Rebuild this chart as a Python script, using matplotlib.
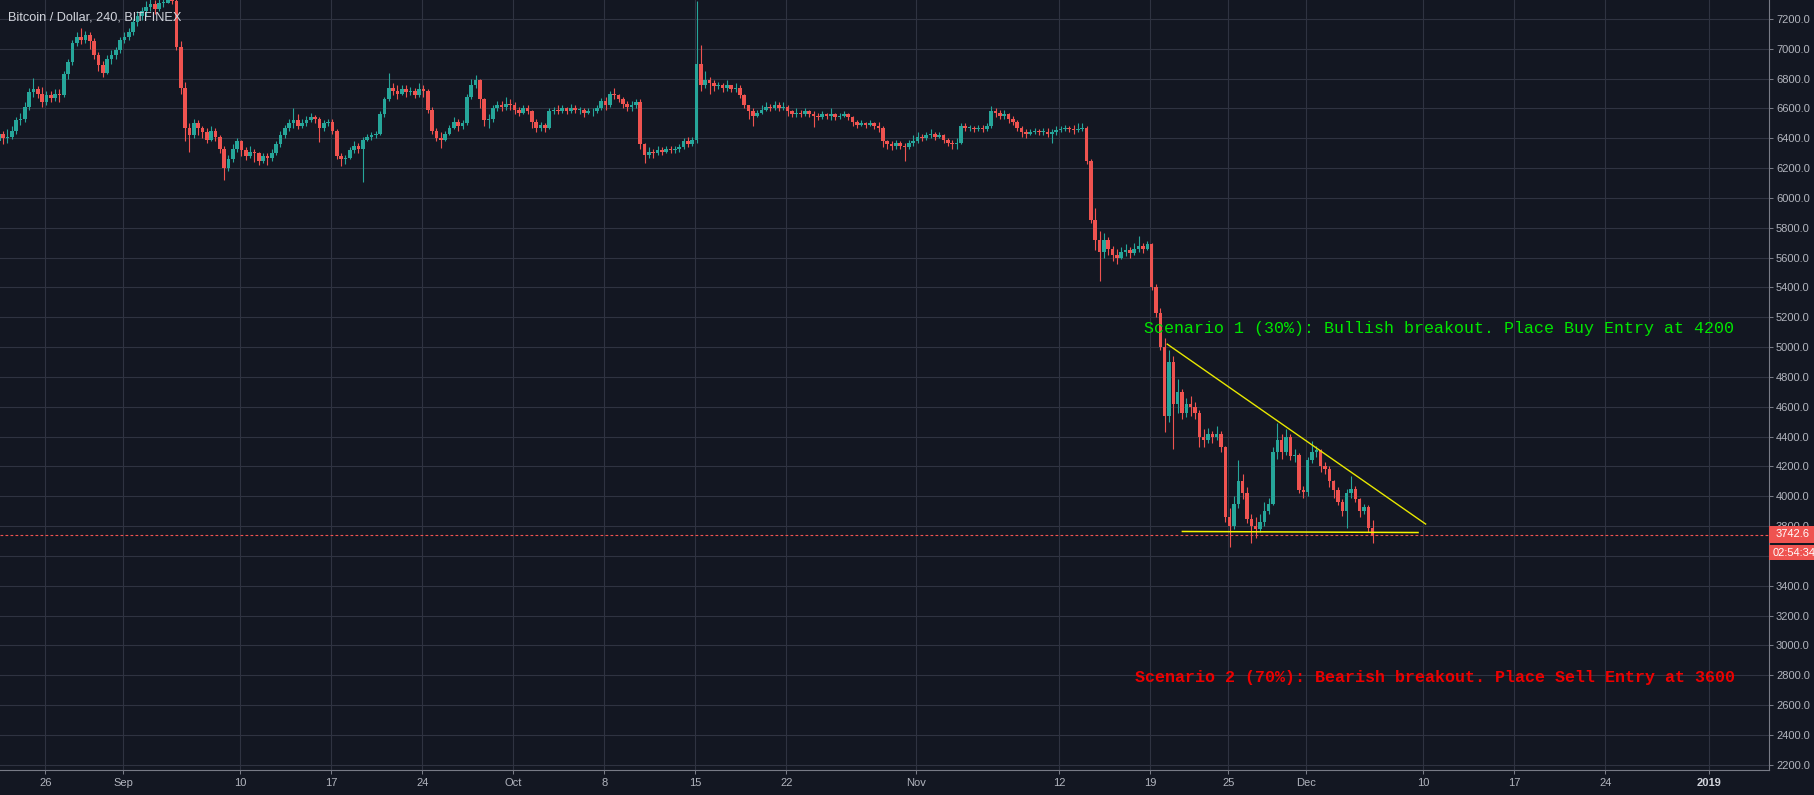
import numpy as np
import pandas as pd
import matplotlib
matplotlib.use("Agg")
import matplotlib.pyplot as plt
import matplotlib.dates as mdates
from matplotlib.patches import Rectangle

plt.rcParams['font.family'] = ['Liberation Sans', 'DejaVu Sans']

# ============================================
# DATA: BTC/USD Bitfinex, 8h candles
# (open of each candle = previous close)
# ============================================
first_open = 6420

close_aug = [6380, 6430, 6400,  6410, 6450, 6520,  6530, 6610, 6710,  6730, 6700, 6640,
             6690, 6670, 6700,  6690, 6830, 6910,  7040, 7080, 7060,  7090, 7050, 6960,
             6890, 6840, 6930,  6960, 6990, 7060]
high_aug = [6460, 6470, 6450,  6460, 6480, 6540,  6570, 6640, 6740,  6805, 6750, 6745,
            6720, 6720, 6730,  6730, 6850, 6930,  7060, 7110, 7140,  7120, 7110, 7070,
            6980, 6920, 6960,  6990, 7010, 7080]
low_aug = [6330, 6255, 6360,  6370, 6395, 6430,  6490, 6510, 6590,  6680, 6670, 6610,
           6620, 6640, 6650,  6640, 6680, 6800,  6890, 7020, 7030,  7040, 7000, 6930,
           6850, 6810, 6830,  6900, 6930, 6970]

close_sep = [7080, 7110, 7180,  7220, 7250, 7280,  7300, 7270, 7310,  7310, 7340, 7320,
             7010, 6740, 6470,  6420, 6500, 6470,  6440, 6390, 6450,  6410, 6330, 6200,
             6260, 6330, 6380,  6320, 6280, 6310,  6300, 6250, 6280,  6270, 6300, 6360,
             6420, 6470, 6500,  6520, 6480, 6500,  6520, 6540, 6530,  6470, 6500, 6510,
             6450, 6280, 6260,  6270, 6320, 6350,  6330, 6390, 6410,  6420, 6430, 6560,
             6660, 6740, 6720,  6700, 6730, 6710,  6720, 6690, 6730,  6720, 6590, 6450,
             6400, 6390, 6430,  6470, 6510, 6480,  6500, 6680, 6760,  6790, 6660, 6520,
             6530, 6600, 6620,  6610, 6630, 6620]
high_sep = [7110, 7140, 7200,  7250, 7280, 7320,  7350, 7330, 7340,  7370, 7400, 7390,
            7360, 7050, 6780,  6500, 6530, 6520,  6480, 6470, 6480,  6470, 6420, 6350,
            6290, 6360, 6400,  6390, 6340, 6345,  6330, 6310, 6300,  6300, 6330, 6380,
            6450, 6490, 6530,  6603, 6560, 6530,  6550, 6570, 6555,  6540, 6520, 6530,
            6530, 6460, 6300,  6290, 6340, 6380,  6370, 6410, 6430,  6440, 6450, 6580,
            6680, 6840, 6770,  6760, 6760, 6760,  6745, 6740, 6770,  6760, 6730, 6610,
            6470, 6440, 6450,  6490, 6540, 6530,  6520, 6700, 6800,  6827, 6800, 6670,
            6560, 6620, 6650,  6650, 6680, 6660]
low_sep = [7040, 7060, 7090,  7150, 7190, 7220,  7250, 7230, 7250,  7280, 7310, 7300,
           6990, 6700, 6380,  6308, 6400, 6420,  6400, 6370, 6380,  6380, 6300, 6121,
           6180, 6240, 6310,  6280, 6255, 6270,  6240, 6220, 6235,  6220, 6250, 6290,
           6340, 6400, 6450,  6470, 6460, 6470,  6480, 6510, 6500,  6378, 6450, 6480,
           6430, 6260, 6211,  6230, 6260, 6300,  6300, 6105, 6380,  6390, 6400, 6420,
           6540, 6650, 6690,  6660, 6690, 6680,  6690, 6670, 6680,  6680, 6570, 6430,
           6380, 6333, 6380,  6420, 6460, 6450,  6460, 6490, 6660,  6740, 6600, 6480,
           6470, 6510, 6580,  6580, 6590, 6590]

close_oct = [6590, 6570, 6600,  6580, 6510, 6470,  6490, 6470, 6580,  6590, 6580, 6600,
             6580, 6600, 6590,  6590, 6570, 6580,  6580, 6600, 6650,  6620, 6700, 6690,
             6660, 6630, 6610,  6620, 6640, 6360,  6290, 6310, 6300,  6320, 6310, 6330,
             6320, 6330, 6340,  6380, 6360, 6390,  6900, 6760, 6790,  6770, 6750, 6760,
             6740, 6760, 6730,  6740, 6690, 6620,  6580, 6550, 6570,  6590, 6610, 6600,
             6620, 6600, 6610,  6580, 6560, 6570,  6560, 6580, 6560,  6550, 6540, 6560,
             6550, 6560, 6545,  6550, 6560, 6540,  6510, 6490, 6500,  6490, 6500, 6485,
             6470, 6380, 6360,  6350, 6370, 6350,  6340, 6370, 6380]
high_oct = [6640, 6610, 6620,  6620, 6590, 6530,  6510, 6500, 6600,  6610, 6620, 6620,
            6610, 6630, 6620,  6610, 6600, 6600,  6600, 6620, 6670,  6680, 6720, 6740,
            6700, 6680, 6650,  6650, 6660, 6660,  6370, 6340, 6330,  6345, 6340, 6350,
            6350, 6350, 6360,  6400, 6410, 6410,  7322, 7022, 6850,  6811, 6790, 6780,
            6770, 6790, 6760,  6770, 6760, 6700,  6620, 6600, 6590,  6620, 6644, 6630,
            6650, 6640, 6640,  6620, 6590, 6600,  6590, 6600, 6590,  6580, 6570, 6580,
            6570, 6600, 6570,  6570, 6580, 6570,  6550, 6520, 6520,  6510, 6520, 6510,
            6510, 6480, 6390,  6380, 6390, 6380,  6370, 6390, 6420]
low_oct = [6560, 6550, 6560,  6560, 6470, 6440,  6450, 6440, 6460,  6560, 6560, 6570,
           6560, 6570, 6570,  6560, 6540, 6560,  6550, 6570, 6590,  6590, 6610, 6660,
           6640, 6600, 6580,  6580, 6600, 6330,  6233, 6270, 6270,  6290, 6290, 6300,
           6300, 6300, 6310,  6330, 6340, 6350,  6370, 6720, 6740,  6700, 6720, 6730,
           6710, 6720, 6710,  6710, 6670, 6600,  6530, 6480, 6540,  6560, 6580, 6580,
           6590, 6580, 6590,  6550, 6540, 6545,  6540, 6550, 6540,  6474, 6520, 6530,
           6530, 6520, 6520,  6530, 6540, 6520,  6480, 6470, 6480,  6470, 6480, 6465,
           6440, 6340, 6330,  6320, 6330, 6330,  6251, 6330, 6350]

close_nov = [6410, 6400, 6420,  6430, 6410, 6420,  6390, 6370, 6360,  6370, 6480, 6470,
             6470, 6460, 6470,  6460, 6480, 6580,  6570, 6550, 6560,  6530, 6510, 6470,
             6440, 6430, 6440,  6450, 6440, 6445,  6430, 6440, 6455,  6460, 6470, 6460,
             6455, 6460, 6470,  6250, 5850, 5720,  5640, 5720, 5660,  5620, 5600, 5640,
             5650, 5630, 5660,  5680, 5660, 5690,  5400, 5230, 5000,  4540, 4900, 4620,
             4700, 4560, 4620,  4600, 4560, 4400,  4380, 4420, 4400,  4420, 4330, 3860,
             3800, 3950, 4100,  4020, 3850, 3800,  3780, 3830, 3900,  3950, 4300, 4380,
             4300, 4400, 4270,  4280, 4040, 4030]
high_nov = [6440, 6430, 6440,  6460, 6440, 6440,  6430, 6400, 6390,  6400, 6500, 6500,
            6490, 6480, 6490,  6490, 6500, 6615,  6600, 6590, 6590,  6570, 6550, 6520,
            6480, 6460, 6460,  6470, 6460, 6470,  6470, 6460, 6480,  6480, 6490, 6480,
            6490, 6500, 6500,  6480, 6260, 5930,  5780, 5766, 5740,  5680, 5660, 5670,
            5690, 5670, 5700,  5748, 5700, 5710,  5700, 5420, 5260,  5060, 4980, 4940,
            4784, 4720, 4660,  4672, 4630, 4580,  4450, 4460, 4440,  4470, 4440, 4340,
            3920, 4000, 4245,  4150, 4060, 3880,  3860, 3880, 3960,  3990, 4330, 4492,
            4420, 4450, 4420,  4320, 4290, 4070]
low_nov = [6370, 6380, 6390,  6400, 6390, 6400,  6370, 6345, 6329,  6330, 6360, 6450,
           6450, 6440, 6450,  6440, 6450, 6470,  6540, 6530, 6530,  6500, 6490, 6450,
           6410, 6400, 6420,  6430, 6420, 6425,  6410, 6367, 6420,  6440, 6450, 6440,
           6430, 6440, 6450,  6230, 5830, 5650,  5443, 5600, 5620,  5577, 5560, 5590,
           5610, 5600, 5620,  5640, 5630, 5650,  5380, 5200, 4980,  4430, 4500, 4320,
           4560, 4520, 4530,  4540, 4520, 4330,  4330, 4360, 4360,  4380, 4300, 3830,
           3660, 3780, 3920,  3980, 3820, 3688,  3720, 3760, 3800,  3880, 3940, 4250,
           4250, 4280, 4240,  4230, 4020, 3990]

close_dec = [4240, 4300, 4310,  4200, 4180, 4100,  4040, 3960, 3900,  4020, 4050, 3980,
             3900, 3930, 3790,  3742.6]
high_dec = [4260, 4370, 4340,  4320, 4230, 4200,  4110, 4060, 3980,  4050, 4133, 4070,
            3990, 3950, 3940,  3840]
low_dec = [4000, 4220, 4260,  4160, 4150, 4060,  3990, 3940, 3870,  3790, 3990, 3960,
           3860, 3880, 3760,  3688]

# x-axis date ticks
tick_dates = ['2018-08-26', '2018-09-01', '2018-09-10', '2018-09-17', '2018-09-24',
              '2018-10-01', '2018-10-08', '2018-10-15', '2018-10-22', '2018-11-01',
              '2018-11-12', '2018-11-19', '2018-11-25', '2018-12-01', '2018-12-10',
              '2018-12-17', '2018-12-24', '2019-01-01']
tick_labels = ['26', 'Sep', '10', '17', '24', 'Oct', '8', '15', '22', 'Nov',
               '12', '19', '25', 'Dec', '10', '17', '24', '2019']
price_ticks = list(range(2200, 7201, 200))
hidden_ticks = [3600]  # covered by the countdown box on the price scale

# triangle drawn on the chart
upper_line_dates = ['2018-11-20 07:00', '2018-12-10 04:00']
upper_line_prices = [5020, 3814]
lower_line_dates = ['2018-11-21 11:00', '2018-12-09 14:00']
lower_line_prices = [3764, 3757]

title = 'Bitcoin / Dollar, 240, BITFINEX'
note_buy = 'Scenario 1 (30%): Bullish breakout. Place Buy Entry at 4200'
note_sell = 'Scenario 2 (70%): Bearish breakout. Place Sell Entry at 3600'
timer = '02:54:34'

# ============================================
# BUILD CANDLES
# ============================================
closes = np.array(close_aug + close_sep + close_oct + close_nov + close_dec, dtype=float)
highs = np.array(high_aug + high_sep + high_oct + high_nov + high_dec, dtype=float)
lows = np.array(low_aug + low_sep + low_oct + low_nov + low_dec, dtype=float)
opens = np.concatenate([[first_open], closes[:-1]])
highs = np.maximum(highs, np.maximum(opens, closes))
lows = np.minimum(lows, np.minimum(opens, closes))

times = pd.date_range('2018-08-22 00:00', periods=len(closes), freq='8h')
x = mdates.date2num(times) + 2 / 24

BG = '#131722'
GRID = '#2f3341'
AXIS = '#787b86'
TXT = '#b2b5be'
UP = '#26a69a'
DOWN = '#ef5350'

up = closes >= opens
cols = np.where(up, UP, DOWN)

# ============================================
# FIGURE
# ============================================
W, H = 1814, 795
fig = plt.figure(figsize=(W / 100, H / 100), dpi=100, facecolor=BG)
ax = fig.add_axes([0, 1 - 770 / H, 1769 / W, 770 / H], facecolor=BG)

ax.vlines(x, lows, highs, colors=cols, lw=0.8, zorder=2)
ax.bar(x, np.maximum(np.abs(closes - opens), 6), bottom=np.minimum(opens, closes),
       width=0.26, color=cols, linewidth=0, zorder=3)

ax.set_xlim(mdates.date2num(pd.Timestamp('2018-08-22 12:11')),
            mdates.date2num(pd.Timestamp('2019-01-05 13:55')))
ax.set_ylim(2165, 7327)

ax.set_xticks(mdates.date2num(pd.to_datetime(tick_dates)))
ax.set_xticklabels(tick_labels)
ax.set_yticks(price_ticks)
ax.set_yticklabels(['' if p in hidden_ticks else f'{p:.1f}' for p in price_ticks])
ax.yaxis.tick_right()

ax.grid(True, color=GRID, lw=0.8)
ax.set_axisbelow(True)
for s in ['top', 'left']:
    ax.spines[s].set_visible(False)
for s in ['right', 'bottom']:
    ax.spines[s].set_color(AXIS)
    ax.spines[s].set_linewidth(0.8)

ax.tick_params(axis='x', length=3, width=0.75, color=AXIS, labelcolor=TXT,
               labelsize=8, pad=3)
ax.tick_params(axis='y', length=3, width=0.75, color=AXIS, labelcolor=TXT,
               labelsize=8, pad=2)
lbl = ax.get_xticklabels()[-1]
lbl.set_fontweight('bold')
lbl.set_color('#d1d4dc')

# triangle
ax.plot(pd.to_datetime(upper_line_dates), upper_line_prices, color='#e8e800', lw=1.0, zorder=5)
ax.plot(pd.to_datetime(lower_line_dates), lower_line_prices, color='#f5f500', lw=1.1, zorder=5)

# scenario notes
ax.text(mdates.date2num(pd.Timestamp('2018-11-18 13:00')), 5092, note_buy,
        family=['Liberation Mono', 'DejaVu Sans Mono'], fontsize=12,
        color='#00e600', va='baseline', ha='left', zorder=6)
ax.text(mdates.date2num(pd.Timestamp('2018-11-17 20:00')), 2757, note_sell,
        family=['Liberation Mono', 'DejaVu Sans Mono'], fontsize=12, fontweight='bold',
        color='#ee0000', va='baseline', ha='left', zorder=6)

# current price line and labels
last = closes[-1]
ax.axhline(last, color=DOWN, lw=0.8, ls=(0, (2.5, 2)), zorder=4)

fig.canvas.draw()
Y = ax.transData.transform((x[0], last))[1]
x0 = 1769 / W
fig.add_artist(Rectangle((x0, (Y - 8) / H), (W - 1769) / W, 17 / H,
                         transform=fig.transFigure, facecolor=DOWN, edgecolor='none'))
fig.add_artist(Rectangle((x0, (Y - 25.7) / H), (W - 1769) / W, 15 / H,
                         transform=fig.transFigure, facecolor=DOWN, edgecolor='none'))
fig.text(1775.5 / W, (Y + 0.5) / H, f'{last:.1f}', color='white', fontsize=8,
         va='center', ha='left')
fig.text(1772.5 / W, (Y - 18.2) / H, timer, color='white', fontsize=8,
         va='center', ha='left')

fig.text(8 / W, 1 - 17 / H, title, color='#d1d4dc', fontsize=9.2, va='center', ha='left')

plt.savefig('out.png', dpi=100, facecolor=BG)
